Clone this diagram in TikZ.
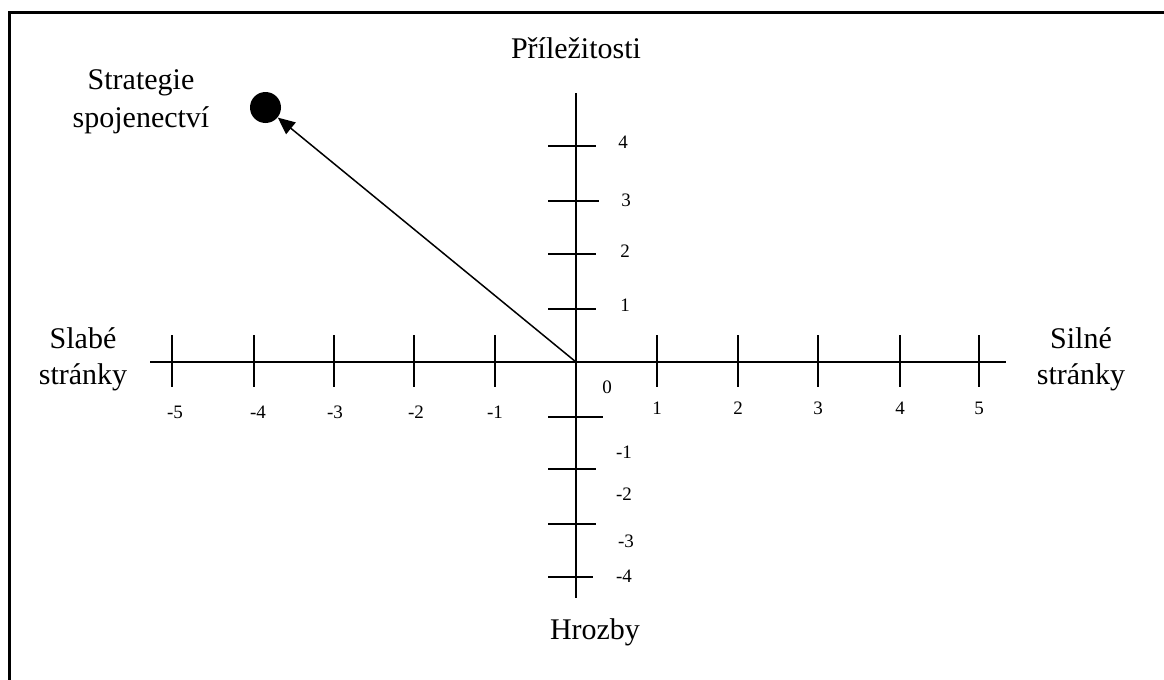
\documentclass[tikz,border=0pt]{standalone}
\usepackage{fontspec}
\setmainfont{Liberation Serif}
\usetikzlibrary{arrows.meta}
\begin{document}
\begin{tikzpicture}[x=0.5pt,y=-0.5pt,
  axisline/.style={line width=1pt,black},
  tickline/.style={line width=0.9pt,black},
  ticklabel/.style={font=\fontsize{9.5pt}{11pt}\selectfont,inner sep=0pt},
  biglabel/.style={font=\fontsize{15pt}{18pt}\selectfont,align=center,inner sep=0pt},
  framestyle/.style={line width=1.5pt,black}]
\useasboundingbox (0,0) rectangle (1164,680);
% frame (only top and left edges visible)
\coordinate (FTR) at (1164,12);
\coordinate (FTL) at (9,12);
\coordinate (FBL) at (9,680);
\draw[framestyle] (FTR) -- (FTL) -- (FBL);
% axes
\coordinate (O) at (576,362);
\coordinate (XL) at (150,362);
\coordinate (XR) at (1006,362);
\coordinate (YT) at (576,93);
\coordinate (YB) at (576,598);
\draw[axisline] (XL) -- (XR);
\draw[axisline] (YT) -- (YB);
% x ticks
\foreach \n/\x in {m5/172,m4/254,m3/334,m2/414,m1/495,p1/657,p2/738,p3/818,p4/900,p5/979}{
  \coordinate (xt\n a) at (\x,335);
  \coordinate (xt\n b) at (\x,387);
  \draw[tickline] (xt\n a) -- (xt\n b);
}
% y ticks
\foreach \n/\y/\r in {p4/146/596,p3/201/599,p2/254/596,p1/309/596,m1/417/603,m2/469/596,m3/524/596,m4/577/593}{
  \coordinate (yt\n a) at (548,\y);
  \coordinate (yt\n b) at (\r,\y);
  \draw[tickline] (yt\n a) -- (yt\n b);
}
% x tick labels
\node[ticklabel] (lxm5) at (175,412) {-5};
\node[ticklabel] (lxm4) at (258,412) {-4};
\node[ticklabel] (lxm3) at (335,412) {-3};
\node[ticklabel] (lxm2) at (416,412) {-2};
\node[ticklabel] (lxm1) at (495,412) {-1};
\node[ticklabel] (lx0) at (607,387) {0};
\node[ticklabel] (lxp1) at (657,408) {1};
\node[ticklabel] (lxp2) at (738,408) {2};
\node[ticklabel] (lxp3) at (818,408) {3};
\node[ticklabel] (lxp4) at (900,408) {4};
\node[ticklabel] (lxp5) at (979,408) {5};
% y tick labels
\node[ticklabel] (lyp4) at (623,142) {4};
\node[ticklabel] (lyp3) at (626,200) {3};
\node[ticklabel] (lyp2) at (625,251) {2};
\node[ticklabel] (lyp1) at (625,305) {1};
\node[ticklabel] (lym1) at (624,452) {-1};
\node[ticklabel] (lym2) at (624,494) {-2};
\node[ticklabel] (lym3) at (626,541) {-3};
\node[ticklabel] (lym4) at (624,576) {-4};
% axis labels
\node[biglabel] (opp) at (576,48) {Příležitosti};
\node[biglabel] (thr) at (595,632) {Hrozby};
\node[biglabel] (weak) at (83,359) {Slabé\\stránky};
\node[biglabel] (strong) at (1081,359) {Silné\\stránky};
\node[biglabel,font=\fontsize{15pt}{19pt}\selectfont] (strat) at (141,102) {Strategie\\spojenectví};
% point and arrow
\node[circle,fill=black,minimum size=15.5pt,inner sep=0pt] (pt) at (265.5,107.5) {};
\draw[line width=0.75pt,-{Triangle[length=8.5pt,width=7.5pt]}] (O) -- (pt);
\end{tikzpicture}
\end{document}
